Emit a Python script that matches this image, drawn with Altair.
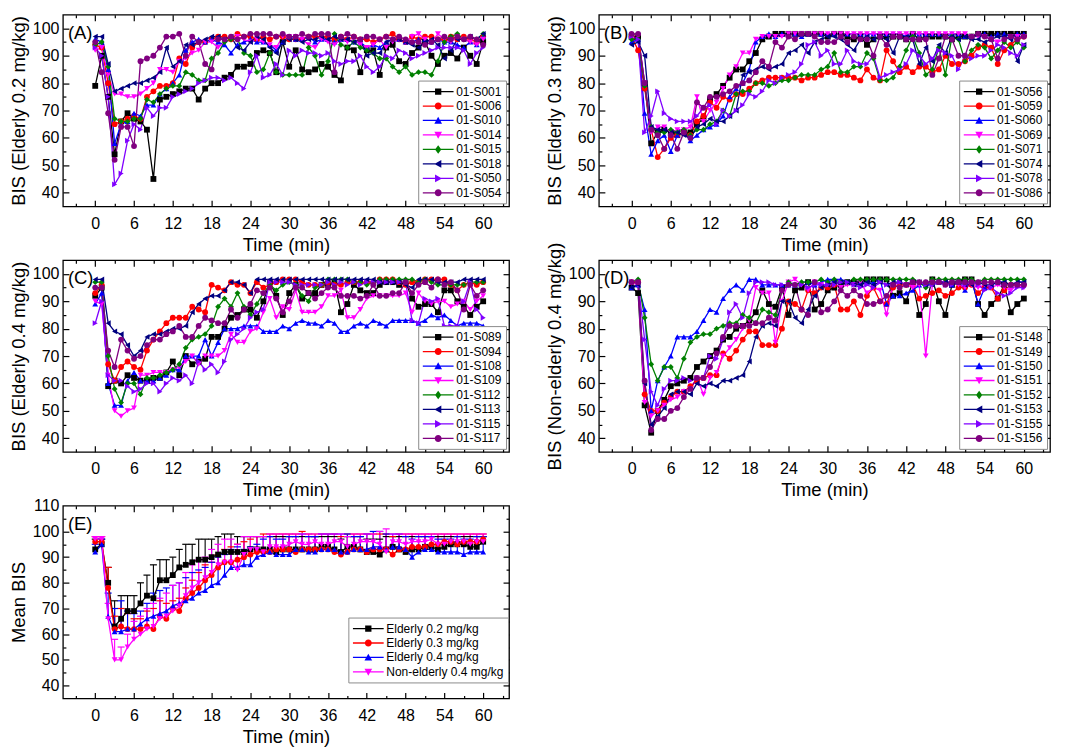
import altair as alt
import pandas as pd

FONT = "Liberation Sans"
T = list(range(61))

# ---------------- Panel A : Elderly 0.2 mg/kg ----------------
A_names = ["01-S001", "01-S006", "01-S010", "01-S014", "01-S015", "01-S018", "01-S050", "01-S054"]
A_S001 = [79,90,75,54,66,69,67,66,63,45, 74,75,76,77,78,78,74,78,80,80, 82,83,86,86,87,91,92,91,84,95, 86,92,85,84,85,87,86,83,81,93, 92,84,92,92,83,93,94,88,87,91, 93,95,90,87,90,91,89,93,90,87,95]
A_S006 = [94,93,80,65,66,67,68,67,75,77, 79,79,80,89,87,93,95,95,96,97, 97,96,98,97,97,96,97,96,97,97, 96,96,96,97,97,97,97,96,97,96, 97,96,96,95,96,97,98,96,95,97, 96,97,97,96,96,97,96,97,96,95,97]
A_S010 = [96,95,85,58,65,66,69,68,72,72, 76,78,80,83,92,95,96,95,96,95, 94,91,94,95,96,95,95,94,92,95, 97,96,96,97,95,96,96,95,96,96, 95,95,93,94,93,95,96,96,95,95, 96,96,95,96,95,95,94,93,95,94,97]
A_S014 = [92,93,83,76,76,75,75,76,78,80, 85,85,84,88,89,91,92,95,95,93, 95,96,97,96,95,96,95,94,93,97, 97,97,96,94,93,96,95,94,96,95, 96,94,93,94,96,93,95,96,95,97, 98,96,95,98,96,95,97,96,95,94,96]
A_S015 = [94,95,86,67,66,66,67,67,74,73, 76,78,79,79,84,83,81,81,89,91, 95,96,96,91,90,84,85,91,84,83, 83,83,83,93,90,83,88,98,94,93, 95,93,92,91,89,89,86,84,86,83, 84,84,83,88,95,97,98,96,97,96,98]
A_S018 = [97,97,87,77,78,79,80,80,81,82, 84,93,86,88,94,94,95,96,97,97, 96,97,93,92,95,97,96,93,91,95, 96,96,95,96,96,97,96,97,96,96, 95,96,90,91,91,95,96,96,95,94, 93,95,96,94,89,92,96,96,97,96,98]
A_S050 = [93,90,75,43,47,59,65,63,71,68, 71,71,75,76,77,78,80,81,82,82, 81,82,80,78,84,90,82,83,87,83, 92,90,92,91,91,90,91,88,87,88, 88,90,86,84,86,90,89,92,91,89, 90,91,92,93,93,93,93,92,87,91,93]
A_S054 = [95,84,69,52,64,64,57,88,89,90, 93,97,97,98,90,97,95,87,85,96, 96,97,96,97,98,98,98,98,97,98, 97,97,98,97,98,98,98,84,97,98, 97,96,97,97,96,97,96,97,96,95, 95,94,95,96,97,96,97,96,97,96,94]

# ---------------- Panel B : Elderly 0.3 mg/kg ----------------
B_names = ["01-S056", "01-S059", "01-S060", "01-S069", "01-S071", "01-S074", "01-S078", "01-S086"]
B_S056 = [97,97,80,58,62,63,62,61,62,62, 65,67,74,76,79,82,85,85,88,91, 96,97,98,98,98,98,98,98,98,98, 97,98,98,97,96,97,94,96,97,97, 97,97,96,98,96,97,97,97,97,96, 97,97,97,98,98,98,98,98,98,98,98]
B_S059 = [97,92,78,63,53,56,60,61,62,61, 66,68,73,71,75,74,76,76,78,80, 81,82,82,82,82,82,81,82,82,83, 84,84,83,83,82,81,85,82,81,92, 88,84,86,84,86,86,84,85,90,87, 87,88,90,93,94,93,87,92,94,96,97]
B_S060 = [95,96,69,54,59,61,55,61,62,59, 61,63,64,65,68,75,78,80,85,95, 97,98,97,98,98,98,97,98,98,98, 98,98,98,98,98,98,98,98,98,98, 98,98,97,98,98,98,98,98,97,98, 98,97,97,98,98,97,98,98,97,98,98]
B_S069 = [96,97,80,62,64,64,62,63,63,64, 75,66,70,73,78,83,86,91,91,96, 97,97,97,97,98,98,98,98,98,98, 98,98,98,98,98,98,98,98,98,98, 98,98,98,98,98,98,98,98,98,98, 98,98,97,97,97,96,95,96,97,97,97]
B_S071 = [96,96,79,64,62,62,63,62,63,61, 63,63,65,66,70,68,76,77,77,80, 80,79,80,81,81,82,83,83,83,85, 86,91,84,84,86,86,91,89,81,81, 82,86,92,97,91,83,85,93,83,97, 96,88,92,94,93,89,92,95,93,95,93]
B_S074 = [94,95,90,64,63,63,62,62,61,60, 64,65,67,66,66,68,70,83,84,85, 86,85,86,87,91,92,94,91,95,96, 97,97,96,94,92,96,97,96,97,96, 91,97,97,96,87,93,88,94,91,97, 96,97,96,96,95,96,97,97,96,88,94]
B_S078 = [97,96,62,68,77,69,67,66,66,66, 68,71,72,65,70,68,70,72,76,75, 77,81,80,82,83,84,87,94,95,90, 92,87,87,92,88,87,87,90,82,83, 84,85,87,92,90,87,89,92,91,90, 85,90,89,90,90,92,94,93,91,90,94]
B_S086 = [98,98,80,63,61,56,61,56,62,60, 73,71,75,75,76,77,79,80,81,84, 88,86,95,93,97,96,98,98,97,95, 95,95,97,95,97,96,96,90,97,94, 97,97,96,96,96,96,83,89,97,96, 90,90,97,98,97,96,89,96,97,96,97]

# ---------------- Panel C : Elderly 0.4 mg/kg ----------------
C_names = ["01-S089", "01-S094", "01-S108", "01-S109", "01-S112", "01-S113", "01-S115", "01-S117"]
C_S089 = [92,95,59,61,60,63,62,61,61,62, 62,64,68,63,70,67,68,69,77,77, 80,84,85,87,87,84,90,97,92,85, 93,96,91,93,93,96,96,97,86,89, 96,94,93,93,96,97,97,96,97,91, 88,89,89,86,94,94,90,88,85,88,90]
C_S094 = [93,96,67,61,66,68,66,65,72,76, 79,82,84,84,84,88,87,86,96,95, 94,97,96,96,93,97,95,96,97,98, 98,98,97,96,96,96,97,96,96,97, 97,97,97,97,98,98,98,97,96,97, 97,98,98,98,98,96,94,96,97,96,97]
C_S108 = [89,93,60,52,52,61,64,61,61,61, 62,63,65,65,70,70,70,76,70,75, 80,80,80,81,81,81,79,79,79,81, 80,82,83,82,82,81,83,82,79,79, 81,82,81,83,82,81,83,83,83,83, 82,83,85,84,85,83,81,82,82,82,81]
C_S109 = [90,89,63,50,48,50,51,63,63,64, 64,64,65,66,68,70,67,70,70,70, 72,78,75,75,79,80,86,91,84,88, 87,94,86,86,86,88,92,92,94,84, 84,87,91,92,92,92,92,92,93,86, 93,90,89,90,90,88,89,90,87,90,92]
C_S112 = [97,97,70,58,53,60,60,56,62,62, 63,64,65,67,73,76,77,78,81,88, 91,88,93,88,85,89,93,96,94,96, 97,96,92,90,95,96,98,98,98,98, 97,97,96,97,98,98,98,98,98,98, 97,98,97,96,96,96,96,96,97,97,97]
C_S113 = [98,98,82,79,78,74,70,72,77,78, 78,79,80,80,81,86,89,91,92,92, 94,97,97,96,93,98,98,98,98,98, 98,98,98,98,98,98,98,98,98,98, 98,98,98,98,97,97,97,97,96,95, 98,98,98,97,97,97,97,98,98,98,98]
C_S115 = [82,90,63,61,61,59,57,58,60,60, 57,60,62,61,63,60,68,65,67,64, 68,76,78,80,84,86,87,97,97,97, 97,96,96,96,96,96,97,96,97,96, 97,96,97,97,97,97,97,97,97,83, 82,91,90,91,81,81,81,90,97,87,84]
C_S117 = [95,95,72,66,76,72,69,70,74,76, 76,78,79,81,77,77,81,84,83,82, 82,87,84,87,89,94,93,95,91,86, 90,95,95,93,91,93,95,95,92,92, 92,91,92,96,92,92,93,93,97,93, 96,97,95,98,96,97,94,87,96,92,94]

# ---------------- Panel D : Non-elderly 0.4 mg/kg ----------------
D_names = ["01-S148", "01-S149", "01-S150", "01-S151", "01-S152", "01-S153", "01-S155", "01-S156"]
D_S148 = [95,93,52,42,50,54,59,60,61,62, 66,68,70,72,76,77,80,81,83,86, 94,89,88,95,85,94,95,97,87,89, 94,95,96,97,97,97,98,98,98,98, 92,93,90,97,85,89,98,90,85,96, 97,98,98,89,85,89,91,96,86,89,91]
D_S149 = [97,97,56,50,50,53,55,57,57,59, 61,62,63,63,71,69,72,76,79,79, 74,74,74,80,90,89,87,94,93,95, 95,96,87,87,90,85,92,95,90,89, 95,96,96,96,91,92,93,94,92,93, 95,95,96,93,95,95,91,94,96,96,96]
D_S150 = [95,96,87,50,61,66,70,77,77,77, 79,83,87,86,91,94,96,94,98,98, 96,96,96,96,96,96,97,97,96,97, 98,98,98,97,97,97,97,97,98,89, 92,92,93,94,96,97,97,97,97,96, 97,94,98,89,95,96,97,97,96,97,97]
D_S151 = [97,96,53,48,50,52,54,55,57,58, 62,56,62,64,70,73,76,80,83,95, 93,93,75,90,97,98,96,94,97,96, 96,96,95,96,96,97,93,95,94,85, 96,97,96,95,96,70,96,97,97,97, 96,95,96,95,96,95,96,95,94,96,95]
D_S152 = [97,98,84,67,61,66,66,62,69,75, 77,78,78,80,81,82,82,85,84,82, 87,86,85,94,97,96,97,97,97,98, 97,98,97,97,98,98,98,98,98,98, 98,98,98,98,97,95,98,98,98,98, 98,98,98,97,98,98,98,98,98,98,98]
D_S153 = [95,96,60,45,48,51,56,57,57,56, 60,59,60,59,61,61,62,63,68,77, 81,82,81,90,90,84,82,87,92,95, 96,97,97,97,96,96,97,96,97,96, 97,97,96,97,97,96,96,97,97,97, 97,96,96,97,96,96,97,97,96,97,97]
D_S155 = [97,97,76,57,52,58,61,61,62,61, 62,62,70,69,76,86,89,84,93,97, 97,97,96,96,96,96,96,95,96,96, 96,96,97,97,96,95,96,95,97,96, 96,97,96,97,97,96,96,97,96,96, 97,96,97,96,94,95,93,92,93,95,95]
D_S156 = [97,97,61,43,47,47,50,51,55,58, 62,62,66,71,77,81,81,81,81,82, 82,84,83,94,96,96,87,85,97,86, 87,90,94,92,94,92,89,89,90,92, 96,95,96,97,97,97,97,97,96,97, 97,97,97,97,97,97,97,96,96,96,96]

# ---------------- Panel E : means (upper error bar ends) ----------------
E_names = ["Elderly 0.2 mg/kg", "Elderly 0.3 mg/kg", "Elderly 0.4 mg/kg", "Non-elderly 0.4 mg/kg"]
E_m02 = [93,95,80,63,66,69,69,72,75,74, 81,81,83,86,87,88,89,89,90,91, 92,92,92,92,93,93,93,93,92,93, 93,93,93,93,93,94,94,93,92,94, 94,93,92,92,91,93,94,93,92,93, 93,94,94,93,94,95,95,95,94,94,96]
E_u02 = [97,97,86,73,75,75,75,80,83,87, 89,89,90,93,95,95,97,97,97,98, 99,99,98,98,98,98,98,98,98,98, 98,98,98,98,98,98,98,98,97,98, 98,98,97,97,97,98,98,98,98,98, 98,98,98,98,98,98,98,98,98,98,98]
E_m03 = [96,96,78,62,63,62,62,62,63,62, 67,66,70,69,74,76,78,81,83,86, 88,88,89,90,91,92,92,92,93,93, 93,92,93,93,93,93,93,92,91,92, 93,93,92,93,93,93,91,93,93,94, 94,94,95,95,96,96,95,96,96,96,97]
E_u03 = [98,98,86,67,70,68,66,66,69,70, 73,72,73,74,78,81,84,87,88,91, 93,94,95,96,97,98,99,99,99,99, 99,99,100,99,99,99,99,99,98,99, 99,99,99,99,99,99,98,99,99,99, 99,99,99,99,99,99,99,99,99,99,99]
E_m04 = [92,95,67,61,61,62,62,64,66,67, 68,69,71,72,73,74,76,77,79,80, 83,86,86,87,87,90,91,92,91,91, 91,93,93,92,92,93,93,93,92,92, 93,93,93,94,94,93,94,94,93,90, 92,93,93,92,92,92,92,91,92,92,92]
E_u04 = [95,97,76,70,73,69,68,69,72,76, 77,78,79,80,82,84,85,86,88,90, 91,93,94,93,94,95,97,98,97,97, 98,98,99,98,98,99,99,99,99,99, 98,98,99,100,100,99,99,99,98,97, 98,98,98,97,97,97,98,97,97,98,98]
E_mN = [97,97,66,50,50,55,58,60,62,63, 66,67,69,71,75,78,80,82,84,87, 88,88,85,91,93,93,92,94,94,94, 95,96,95,95,96,95,95,96,96,94, 95,96,96,96,95,92,96,96,95,96, 96,96,97,95,95,96,96,96,95,96,96]
E_uN = [98,98,72,58,55,60,65,67,70,72, 74,76,79,80,84,87,89,90,93,95, 97,97,95,98,98,98,98,99,99,99, 99,99,99,99,99,99,99,99,99,98, 99,99,99,99,100,101,99,99,99,99, 99,99,99,99,99,99,99,99,99,99,99]

# ---------------- styles ----------------
COLORS8 = ["#000000", "#FF0000", "#0000FF", "#FF00FF", "#008000", "#000080", "#8000FF", "#800080"]
SHAPES8 = ["square", "circle", "triangle-up", "triangle-down", "diamond", "triangle-left", "triangle-right", "circle"]

SEG = "M-2.2 -0.09H-0.25V0.09H-2.2Z M0.25 -0.09H2.2V0.09H0.25Z "
MARK_PATHS = {
    "square": "M-0.45 -0.45H0.45V0.45H-0.45Z",
    "circle": "M0.5 0A0.5 0.5 0 1 1 -0.5 0A0.5 0.5 0 1 1 0.5 0Z",
    "triangle-up": "M0 -0.55L0.55 0.45L-0.55 0.45Z",
    "triangle-down": "M0 0.55L-0.55 -0.45L0.55 -0.45Z",
    "diamond": "M0 -0.6L0.45 0L0 0.6L-0.45 0Z",
    "triangle-left": "M-0.55 0L0.45 -0.55L0.45 0.55Z",
    "triangle-right": "M0.55 0L-0.45 0.55L-0.45 -0.55Z",
}
LEG8 = [SEG + MARK_PATHS[s] for s in SHAPES8]

XDOM = [-5, 64]
XLAB = list(range(0, 61, 6))
XTICK = list(range(-3, 64, 3))


def long_df(names, series, uppers=None):
    rows = []
    for i, (n, vals) in enumerate(zip(names, series)):
        for j, (t, v) in enumerate(zip(T, vals)):
            r = {"t": t, "v": v, "s": n}
            if uppers is not None:
                r["up"] = uppers[i][j]
            rows.append(r)
    return pd.DataFrame(rows)


def tick_axis(orient, offset, vals, mod):
    return alt.Axis(orient=orient, offset=offset, values=vals, labels=False, domain=False,
                    grid=False, title=None, ticks=True, tickColor="black", tickWidth=1.2,
                    tickSize={"condition": {"test": f"datum.value % {mod} === 0", "value": 6}, "value": 3})


def panel(df, names, colors, shapes, legpaths, ytitle, label, W, H, ydom, ylab, ytick,
          legend_kw, err=False):
    xs = alt.Scale(domain=XDOM, nice=False, zero=False)
    ys = alt.Scale(domain=ydom, nice=False, zero=False)
    cs = alt.Scale(domain=names, range=colors)
    ss = alt.Scale(domain=names, range=shapes)
    ls = alt.Scale(domain=names, range=legpaths)
    base = alt.Chart(df)

    xa = alt.Axis(orient="bottom", values=XLAB, ticks=False, domain=False, grid=False,
                  labelFont=FONT, labelFontSize=16, labelColor="black", labelPadding=9,
                  title="Time (min)", titleFont=FONT, titleFontSize=18.5, titleFontWeight="normal",
                  titleColor="black", titlePadding=4)
    ya = alt.Axis(orient="left", values=ylab, ticks=False, domain=False, grid=False,
                  labelFont=FONT, labelFontSize=16, labelColor="black", labelPadding=4,
                  title=ytitle, titleFont=FONT, titleFontSize=18.5, titleFontWeight="normal",
                  titleColor="black", titlePadding=4)

    X0 = alt.X("t:Q", scale=xs, axis=None)
    Y0 = alt.Y("v:Q", scale=ys, axis=None)
    layers = []
    if err:
        layers.append(base.mark_rule(strokeWidth=1.1).encode(
            x=X0, y=Y0, y2="up:Q", color=alt.Color("s:N", scale=cs, legend=None)))
        layers.append(base.mark_tick(orient="horizontal", size=7, thickness=1.2, opacity=1).encode(
            x=X0, y=alt.Y("up:Q", scale=ys, axis=None), color=alt.Color("s:N", scale=cs, legend=None)))

    layers.append(base.mark_line(strokeWidth=1.3).encode(
        x=alt.X("t:Q", scale=xs, axis=xa), y=alt.Y("v:Q", scale=ys, axis=ya),
        color=alt.Color("s:N", scale=cs, legend=None)))
    layers.append(base.mark_point(filled=True, size=34, opacity=1, strokeWidth=0).encode(
        x=X0, y=Y0, color=alt.Color("s:N", scale=cs, legend=None),
        shape=alt.Shape("s:N", scale=ss, legend=None)))

    leg = dict(title=None, strokeColor="#8c8c8c", fillColor="white", padding=4,
               labelFont=FONT, labelFontSize=12, labelColor="black", labelLimit=300,
               symbolSize=196, symbolStrokeWidth=0, symbolOpacity=1, symbolOffset=9,
               labelOffset=11, rowPadding=1.5)
    leg.update(legend_kw)
    layers.append(base.mark_point(filled=True, opacity=0, size=1).encode(
        x=X0, y=Y0,
        color=alt.Color("s:N", scale=cs, legend=alt.Legend(**leg)),
        shape=alt.Shape("s:N", scale=ls, legend=alt.Legend(**leg))))

    layers.append(base.mark_point(opacity=0, size=1).encode(
        x=alt.X("t:Q", scale=xs, axis=tick_axis("top", -H, XTICK, 6)),
        y=alt.Y("v:Q", scale=ys, axis=tick_axis("right", -W, ytick, 10))))
    layers.append(base.mark_point(opacity=0, size=1).encode(
        x=alt.X("t:Q", scale=xs, axis=tick_axis("bottom", -H, XTICK, 6)),
        y=alt.Y("v:Q", scale=ys, axis=tick_axis("left", -W, ytick, 10))))

    layers.append(alt.Chart(pd.DataFrame({"lab": [label]})).mark_text(
        align="left", baseline="top", font=FONT, fontSize=18.5, color="black").encode(
        x=alt.value(5), y=alt.value(9), text="lab:N"))

    return (alt.layer(*layers)
            .resolve_scale(color="independent", shape="independent")
            .resolve_axis(x="independent", y="independent")
            .properties(width=W, height=H))


YLAB = list(range(40, 101, 10))
YTICK = list(range(40, 101, 5))
BR = {"orient": "bottom-right", "offset": 3}

dfA = long_df(A_names, [A_S001, A_S006, A_S010, A_S014, A_S015, A_S018, A_S050, A_S054])
dfB = long_df(B_names, [B_S056, B_S059, B_S060, B_S069, B_S071, B_S074, B_S078, B_S086])
dfC = long_df(C_names, [C_S089, C_S094, C_S108, C_S109, C_S112, C_S113, C_S115, C_S117])
dfD = long_df(D_names, [D_S148, D_S149, D_S150, D_S151, D_S152, D_S153, D_S155, D_S156])
dfE = long_df(E_names, [E_m02, E_m03, E_m04, E_mN], [E_u02, E_u03, E_u04, E_uN])

pA = panel(dfA, A_names, COLORS8, SHAPES8, LEG8, "BIS (Elderly 0.2 mg/kg)", "(A)", 447, 192,
           [35, 105], YLAB, YTICK, BR)
pB = panel(dfB, B_names, COLORS8, SHAPES8, LEG8, "BIS (Elderly 0.3 mg/kg)", "(B)", 452, 192,
           [35, 105], YLAB, YTICK, BR)
pC = panel(dfC, C_names, COLORS8, SHAPES8, LEG8, "BIS (Elderly 0.4 mg/kg)", "(C)", 447, 192,
           [35, 105], YLAB, YTICK, BR)
pD = panel(dfD, D_names, COLORS8, SHAPES8, LEG8, "BIS (Non-elderly 0.4 mg/kg)", "(D)", 452, 192,
           [35, 105], YLAB, YTICK, BR)
pE = panel(dfE, E_names, COLORS8[:4], SHAPES8[:4], LEG8[:4], "Mean BIS", "(E)", 447, 193,
           [35, 110], list(range(40, 111, 10)), list(range(40, 106, 5)),
           {"orient": "none", "legendX": 286, "legendY": 112}, err=True)

chart = (alt.concat(pA, pB, pC, pD, pE, columns=2, spacing={"row": 54, "column": 90}, bounds="flush")
         .resolve_scale(color="independent", shape="independent")
         .properties(padding={"left": 0, "top": 4, "right": 5, "bottom": 5}, background="white")
         .configure_view(stroke="black", strokeWidth=1.3))

chart.save("out.html", embed_options={"renderer": "svg", "actions": False})
